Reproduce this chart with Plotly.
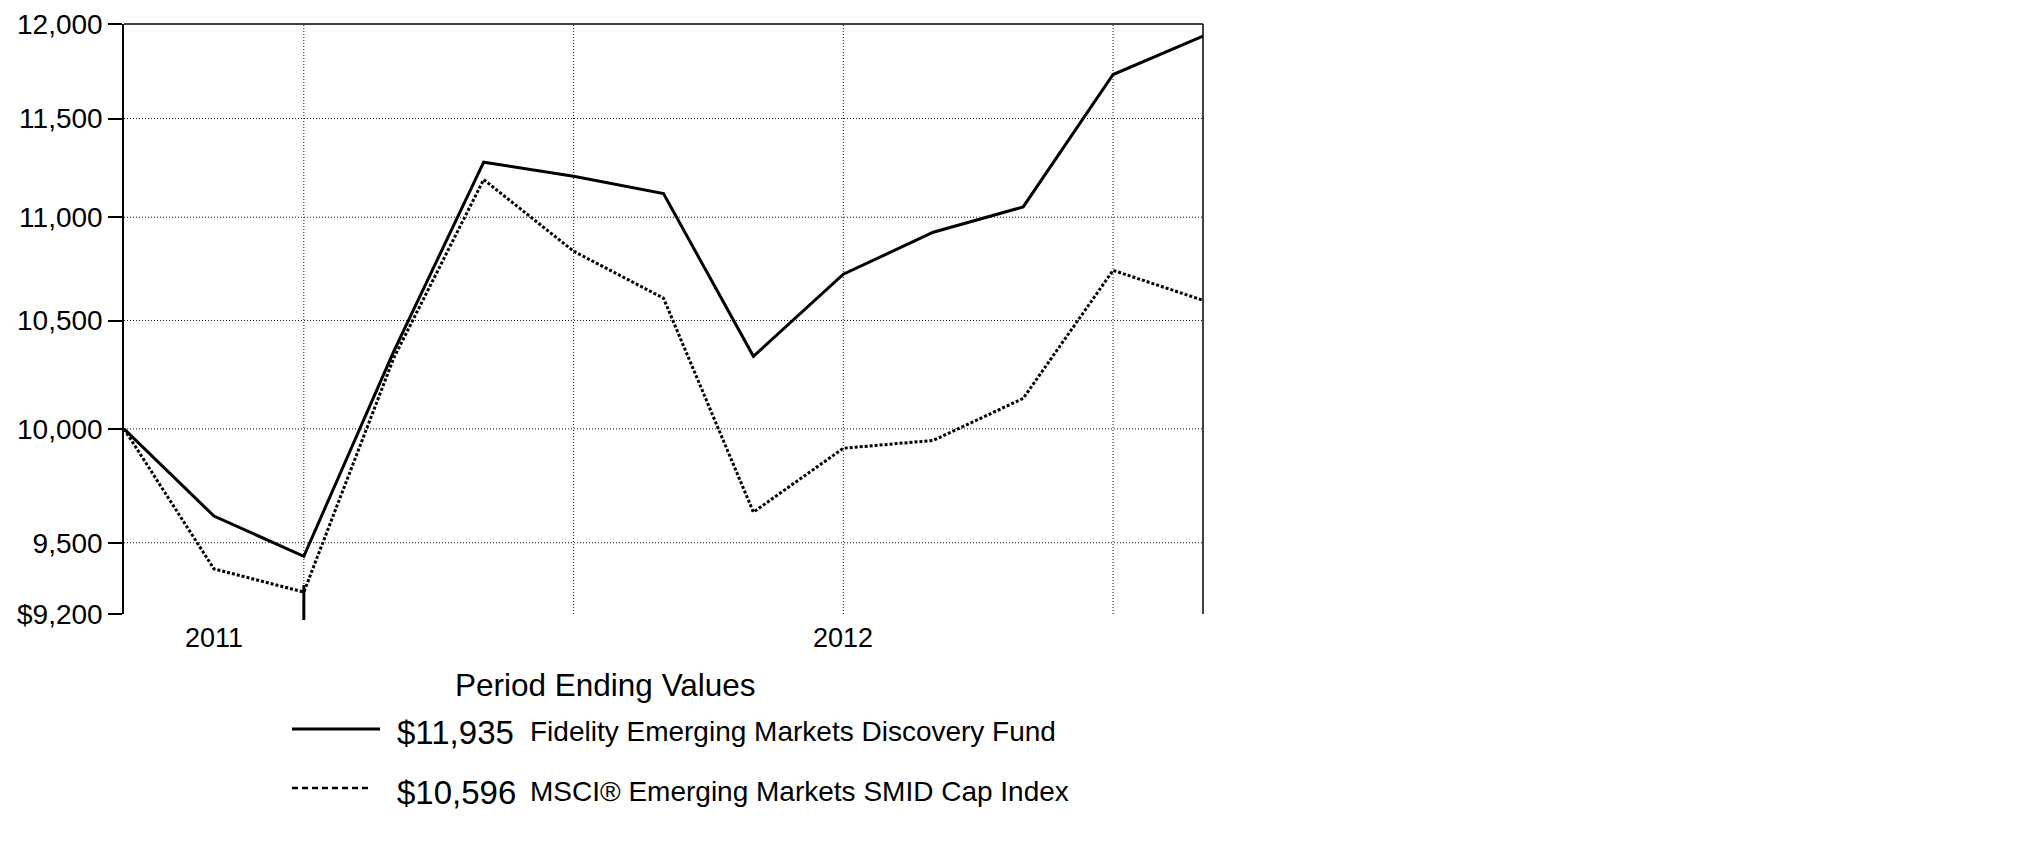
import plotly.graph_objects as go

# ---- data ----
periods = ["Nov-11", "Nov-11e", "Dec-11", "Jan-12", "Feb-12", "Mar-12", "Apr-12",
           "May-12", "Jun-12", "Jul-12", "Aug-12", "Sep-12", "Oct-12"]
fund_values = [10000, 9615, 9442, 10355, 11276, 11205, 11118, 10332, 10721, 10926, 11051, 11730, 11935]
index_values = [10000, 9389, 9291, 10324, 11188, 10833, 10606, 9632, 9913, 9948, 10138, 10740, 10596]
fund_name = "Fidelity Emerging Markets Discovery Fund"
index_name = "MSCI\u00ae Emerging Markets SMID Cap Index"
fund_end_label = "$11,935"
index_end_label = "$10,596"
y_tick_values = [9200, 9500, 10000, 10500, 11000, 11500, 12000]
y_tick_text = ["$9,200", "9,500", "10,000", "10,500", "11,000", "11,500", "12,000"]
y_grid_values = [9500, 10000, 10500, 11000, 11500]
x_grid_positions = [2, 5, 8, 11]
year_labels = ["2011", "2012"]
year_positions = [1, 8]
legend_title = "Period Ending Values"

x_vals = list(range(len(periods)))
FONT = "Arial, Liberation Sans, sans-serif"

fig = go.Figure()
fig.add_trace(go.Scatter(x=x_vals, y=index_values, mode="lines", name=index_name,
                         line=dict(color="black", width=3, dash="3px,2px"), showlegend=False))
fig.add_trace(go.Scatter(x=x_vals, y=fund_values, mode="lines", name=fund_name,
                         line=dict(color="black", width=3), showlegend=False))

shapes = []
for g in y_grid_values:
    shapes.append(dict(type="line", xref="paper", yref="y", x0=0, x1=1, y0=g, y1=g,
                       line=dict(color="#111", width=1, dash="1px,2px"), layer="below"))
for g in x_grid_positions:
    shapes.append(dict(type="line", xref="x", yref="paper", x0=g, x1=g, y0=0, y1=1,
                       line=dict(color="#111", width=1, dash="1px,2px"), layer="below"))
# frame: top and right border
shapes.append(dict(type="line", xref="paper", yref="paper", x0=0, x1=1, y0=1, y1=1,
                   line=dict(color="black", width=1.5)))
shapes.append(dict(type="line", xref="paper", yref="paper", x0=1, x1=1, y0=0, y1=1,
                   line=dict(color="black", width=1.5)))
# thick marker at the third period
shapes.append(dict(type="line", xref="x", yref="paper", x0=2, x1=2, y0=0.049, y1=-0.0102,
                   line=dict(color="black", width=3)))
# legend samples
shapes.append(dict(type="line", xref="paper", yref="paper", x0=0.1557, x1=0.2373, y0=-0.1949, y1=-0.1949,
                   line=dict(color="black", width=3)))
shapes.append(dict(type="line", xref="paper", yref="paper", x0=0.1557, x1=0.228, y0=-0.2949, y1=-0.2949,
                   line=dict(color="black", width=2.5, dash="6px,4px")))

annotations = []
for lab, pos in zip(year_labels, year_positions):
    annotations.append(dict(text=lab, x=pos, xref="x", y=-0.0407, yref="paper",
                            xanchor="center", yanchor="middle", showarrow=False,
                            font=dict(family=FONT, size=27, color="black")))
annotations.append(dict(text=legend_title, x=0.3049, xref="paper", y=-0.1195, yref="paper",
                        xanchor="left", yanchor="middle", showarrow=False,
                        font=dict(family=FONT, size=31.5, color="black")))
annotations.append(dict(text=fund_end_label, x=0.2512, xref="paper", y=-0.2, yref="paper",
                        xanchor="left", yanchor="middle", showarrow=False,
                        font=dict(family=FONT, size=33, color="black")))
annotations.append(dict(text=fund_name, x=0.3744, xref="paper", y=-0.1985, yref="paper",
                        xanchor="left", yanchor="middle", showarrow=False,
                        font=dict(family=FONT, size=28, color="black")))
annotations.append(dict(text=index_end_label, x=0.2512, xref="paper", y=-0.3017, yref="paper",
                        xanchor="left", yanchor="middle", showarrow=False,
                        font=dict(family=FONT, size=33, color="black")))
annotations.append(dict(text=index_name, x=0.3744, xref="paper", y=-0.3, yref="paper",
                        xanchor="left", yanchor="middle", showarrow=False,
                        font=dict(family=FONT, size=28, color="black")))

fig.update_layout(
    width=2009, height=835,
    margin=dict(l=116, r=814, t=16, b=229, autoexpand=False),
    paper_bgcolor="white", plot_bgcolor="white",
    shapes=shapes, annotations=annotations,
    xaxis=dict(range=[0, 12], showgrid=False, zeroline=False, showline=False,
               showticklabels=False, ticks="", automargin=False),
    yaxis=dict(type="log", range=[3.963788, 4.079181], tickvals=y_tick_values, ticktext=y_tick_text,
               showgrid=False, zeroline=False, showline=True, linecolor="black", linewidth=1.5,
               ticks="outside", ticklen=14, tickwidth=2, tickcolor="black", automargin=False,
               tickfont=dict(family=FONT, size=28, color="black")),
    font=dict(family=FONT, color="black"),
)
fig.write_html("out.html")
